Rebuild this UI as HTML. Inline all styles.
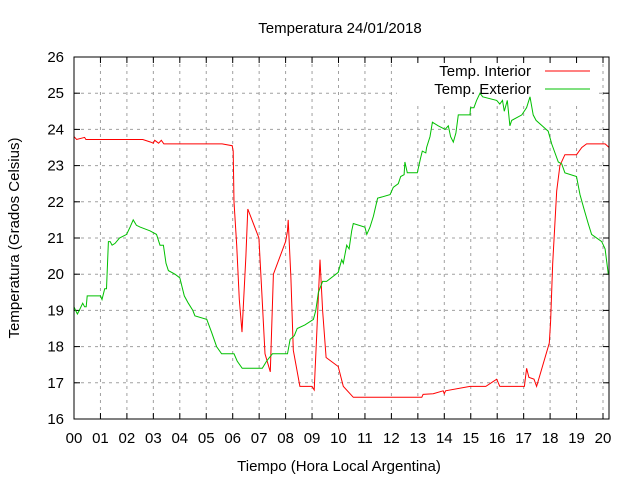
<!DOCTYPE html>
<html><head><meta charset="utf-8"><style>
body{margin:0;background:#fff;}
svg{display:block;font-family:"Liberation Sans",sans-serif;}
</style></head><body>
<svg id="chart" width="640" height="480">
<text x="340" y="33" text-anchor="middle" font-size="15">Temperatura 24/01/2018</text>
<text x="339" y="471" text-anchor="middle" font-size="15">Tiempo (Hora Local Argentina)</text>
<text transform="translate(19,238) rotate(-90)" text-anchor="middle" font-size="15">Temperatura (Grados Celsius)</text>
<g id="grid"></g>
<rect x="397" y="60" width="200" height="42" fill="#fff"/>
<g id="ticks"></g><g id="series"></g>
<g>
<text x="531" y="76" text-anchor="end" font-size="15">Temp. Interior</text>
<line x1="545" y1="71" x2="590" y2="71" stroke="#ff0000" stroke-width="1"/>
<text x="531" y="94" text-anchor="end" font-size="15">Temp. Exterior</text>
<line x1="545" y1="89" x2="590" y2="89" stroke="#00c000" stroke-width="1"/>
</g>
<rect x="74" y="57" width="535" height="362" fill="none" stroke="#000" stroke-width="1"/>
</svg>
<script>
const xTicks=["00","01","02","03","04","05","06","07","08","09","10","11","12","13","14","15","16","17","18","19","20"];
const yTicks=[16,17,18,19,20,21,22,23,24,25,26];
const interiorT=[0,0.1,0.4,0.45,2.6,2.9,3.0,3.05,3.2,3.3,3.4,5.6,5.98,6.02,6.05,6.15,6.25,6.35,6.5,6.57,6.99,7.1,7.22,7.42,7.54,8.0,8.07,8.1,8.2,8.29,8.54,9.0,9.08,9.17,9.3,9.4,9.53,9.99,10.18,10.56,13.15,13.2,13.58,13.96,14.0,14.05,14.97,15.57,15.98,16.1,17.03,17.11,17.2,17.39,17.49,17.97,18.02,18.1,18.15,18.25,18.37,18.56,19.0,19.2,19.38,20.08,20.23];
const interiorV=[23.8,23.72,23.78,23.72,23.72,23.65,23.62,23.7,23.62,23.7,23.6,23.6,23.55,23.4,22.0,20.8,19.3,18.4,20.5,21.8,21.0,19.5,17.8,17.3,20.0,20.9,21.2,21.5,19.9,17.9,16.9,16.9,16.8,18.2,20.4,19.0,17.7,17.45,16.9,16.6,16.6,16.68,16.7,16.78,16.7,16.78,16.9,16.9,17.1,16.9,16.9,17.4,17.15,17.1,16.9,18.1,18.7,20.3,21.0,22.3,23.0,23.3,23.3,23.5,23.6,23.6,23.5];
const exteriorT=[0,0.06,0.13,0.2,0.33,0.4,0.46,0.5,1.0,1.06,1.16,1.23,1.3,1.37,1.44,1.55,1.72,1.99,2.12,2.24,2.36,2.5,2.87,3.12,3.25,3.38,3.48,3.57,3.82,4.0,4.17,4.32,4.49,4.57,5.02,5.2,5.39,5.58,6.05,6.17,6.36,7.12,7.28,7.5,8.07,8.17,8.33,8.44,8.73,9.05,9.14,9.24,9.4,9.55,9.99,10.12,10.18,10.31,10.4,10.5,10.56,11.0,11.07,11.19,11.32,11.48,11.95,12.07,12.26,12.35,12.48,12.51,12.6,12.98,13.1,13.17,13.3,13.33,13.46,13.55,13.77,14.03,14.15,14.24,14.34,14.44,14.53,14.97,14.99,15.12,15.22,15.35,15.45,15.98,16.1,16.2,16.27,16.38,16.48,16.55,16.93,17.11,17.24,17.36,17.47,17.93,18.06,18.31,18.44,18.56,19.0,19.13,19.28,19.44,19.57,19.95,20.08,20.2];
const exteriorV=[19.1,19.0,18.9,19.0,19.2,19.1,19.1,19.4,19.4,19.3,19.6,19.6,20.9,20.9,20.8,20.85,21.0,21.1,21.3,21.5,21.35,21.3,21.2,21.1,20.8,20.8,20.3,20.1,20.0,19.9,19.4,19.2,19.0,18.85,18.75,18.4,18.0,17.8,17.8,17.6,17.4,17.4,17.6,17.8,17.8,18.2,18.3,18.5,18.6,18.75,19.0,19.5,19.8,19.8,20.05,20.4,20.3,20.8,20.7,21.2,21.4,21.3,21.1,21.3,21.6,22.1,22.2,22.4,22.5,22.7,22.75,23.1,22.8,22.8,23.2,23.4,23.35,23.5,23.8,24.2,24.1,24.0,24.1,23.8,23.65,23.9,24.4,24.4,24.6,24.6,24.8,25.0,24.9,24.8,24.7,24.8,24.5,24.8,24.1,24.25,24.4,24.6,24.9,24.4,24.25,23.95,23.6,23.1,23.05,22.8,22.7,22.2,21.8,21.4,21.1,20.9,20.7,20.0];
const X0=74,X1=609,Y0=419,Y1=57,HW=26.45;
const xs=h=>X0+h*HW;
const ys=v=>Y0-(v-16)*(Y0-Y1)/10;
const NS="http://www.w3.org/2000/svg";
const grid=document.getElementById('grid'),ticks=document.getElementById('ticks'),series=document.getElementById('series');
function mk(tag,attrs,parent){const e=document.createElementNS(NS,tag);for(const k in attrs)e.setAttribute(k,attrs[k]);parent.appendChild(e);return e;}
xTicks.forEach((t,i)=>{const x=xs(i);
 if(i>0){const g=mk('line',{x1:x,y1:Y1,x2:x,y2:Y0,stroke:'#a0a0a0','stroke-dasharray':'3,4'},grid);
 
 }
 const a=mk('line',{x1:x,y1:Y0,x2:x,y2:Y0-6,stroke:'#000'},ticks);
 
 
 const b=mk('line',{x1:x,y1:Y1,x2:x,y2:Y1+6,stroke:'#000'},ticks);
 
 
 const tx=mk('text',{x:x,y:443,'text-anchor':'middle','font-size':'15'},ticks);tx.textContent=t;
 
 
});
yTicks.forEach(v=>{const y=ys(v);
 if(v>16&&v<26){const g=mk('line',{x1:X0,y1:y,x2:X1,y2:y,stroke:'#a0a0a0','stroke-dasharray':'3,4'},grid);
 
 }
 const a=mk('line',{x1:X0,y1:y,x2:X0+6,y2:y,stroke:'#000'},ticks);
 
 
 const b=mk('line',{x1:X1,y1:y,x2:X1-6,y2:y,stroke:'#000'},ticks);
 
 
 const tx=mk('text',{x:64,y:y+5,'text-anchor':'end','font-size':'15'},ticks);tx.textContent=v;
 
 
});
function line(T,V,color,name){const d=T.map((t,i)=>(i?'L':'M')+xs(t).toFixed(1)+','+ys(V[i]).toFixed(1)).join('');
 const p=mk('path',{d:d,fill:'none',stroke:color,'stroke-width':'1'},series);
 
 }
line(interiorT,interiorV,'#ff0000','interior-temp-line');
line(exteriorT,exteriorV,'#00c000','exterior-temp-line');
</script>
</body></html>
